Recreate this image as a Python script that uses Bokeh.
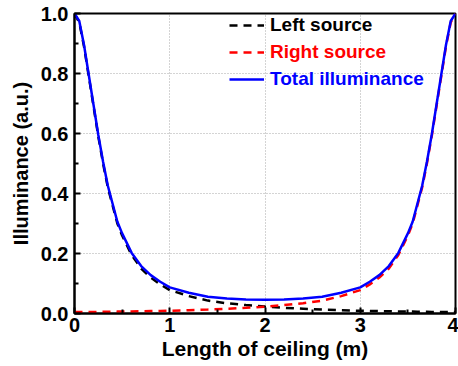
from bokeh.plotting import figure
from bokeh.models import Range1d, Legend, LegendItem, FixedTicker, NumeralTickFormatter
from bokeh.embed import file_html
from bokeh.resources import INLINE

# Position along ceiling (m)
x = [0, 0.05, 0.1, 0.15, 0.2, 0.25, 0.3, 0.35, 0.4, 0.45, 0.5, 0.6, 0.7, 0.8, 0.9, 1.0,
     1.2, 1.4, 1.6, 1.8, 2.0, 2.2, 2.4, 2.6, 2.8, 3.0, 3.1, 3.2, 3.3, 3.4, 3.5, 3.55,
     3.6, 3.65, 3.7, 3.75, 3.8, 3.85, 3.9, 3.95, 4.0]

left_source = [1.000, 0.970, 0.890, 0.790, 0.690, 0.590, 0.500, 0.420, 0.360, 0.300, 0.260,
               0.195, 0.150, 0.120, 0.097, 0.078, 0.058, 0.043, 0.034, 0.028, 0.023, 0.019,
               0.016, 0.013, 0.011, 0.009, 0.0085, 0.008, 0.0075, 0.007, 0.0065, 0.0063,
               0.006, 0.0058, 0.0056, 0.0054, 0.0052, 0.0051, 0.005, 0.0049, 0.0048]

right_source = [0.0048, 0.0049, 0.005, 0.0051, 0.0052, 0.0054, 0.0056, 0.0058, 0.006, 0.0063,
                0.0065, 0.007, 0.0075, 0.008, 0.0085, 0.009, 0.011, 0.013, 0.016, 0.019, 0.023,
                0.028, 0.034, 0.043, 0.058, 0.078, 0.097, 0.120, 0.150, 0.195, 0.260, 0.300,
                0.360, 0.420, 0.500, 0.590, 0.690, 0.790, 0.890, 0.970, 1.000]

total = [1.000, 0.975, 0.895, 0.795, 0.695, 0.595, 0.506, 0.426, 0.366, 0.306, 0.267, 0.202,
         0.158, 0.128, 0.106, 0.087, 0.069, 0.056, 0.050, 0.047, 0.046, 0.047, 0.050, 0.056,
         0.069, 0.087, 0.106, 0.128, 0.158, 0.202, 0.267, 0.306, 0.366, 0.426, 0.506, 0.595,
         0.695, 0.795, 0.895, 0.975, 1.000]

x_ticks = [0, 1, 2, 3, 4]
y_ticks = [0.0, 0.2, 0.4, 0.6, 0.8, 1.0]
labels = ["Left source", "Right source", "Total illuminance"]
colors = ["#000000", "#ff0000", "#0000ff"]

FONT = "Liberation Sans"

p = figure(width=458, height=366, output_backend="svg", toolbar_location=None,
           x_range=Range1d(0, 4), y_range=Range1d(0, 1),
           min_border_left=74, min_border_right=3, min_border_top=13, min_border_bottom=53)

p.outline_line_color = "black"
p.outline_line_width = 2
p.background_fill_color = "white"
p.border_fill_color = "white"

# grid
for g in (p.xgrid, p.ygrid):
    g.grid_line_color = "#a8a8a8"
    g.grid_line_dash = "1 2"
    g.grid_line_width = 1
p.xgrid.ticker = FixedTicker(ticks=x_ticks[1:-1])
p.ygrid.ticker = FixedTicker(ticks=y_ticks[1:-1])

# axes
p.xaxis.ticker = FixedTicker(ticks=x_ticks, minor_ticks=[0.5, 1.5, 2.5, 3.5])
p.yaxis.ticker = FixedTicker(ticks=y_ticks, minor_ticks=[0.1, 0.3, 0.5, 0.7, 0.9])
p.yaxis.formatter = NumeralTickFormatter(format="0.0")
p.xaxis.axis_label = "Length of ceiling (m)"
p.yaxis.axis_label = "Illuminance (a.u.)"
for ax in (p.xaxis[0], p.yaxis[0]):
    ax.axis_line_width = 2
    ax.axis_line_color = "black"
    ax.major_tick_in = 6
    ax.major_tick_out = 0
    ax.minor_tick_in = 4
    ax.minor_tick_out = 0
    ax.major_tick_line_width = 2
    ax.minor_tick_line_width = 2
    ax.major_label_text_font = FONT
    ax.major_label_text_font_style = "bold"
    ax.major_label_text_font_size = "20px"
    ax.major_label_text_color = "black"
    ax.axis_label_text_font = FONT
    ax.axis_label_text_font_style = "bold"
    ax.axis_label_text_color = "black"
p.xaxis.axis_label_text_font_size = "21px"
p.yaxis.axis_label_text_font_size = "20px"
p.xaxis.major_label_standoff = 4
p.yaxis.major_label_standoff = 6
p.xaxis.axis_label_standoff = 2
p.yaxis.axis_label_standoff = 6

r_left = p.line(x, left_source, line_color=colors[0], line_width=2.5, line_dash="8 6")
r_right = p.line(x, right_source, line_color=colors[1], line_width=2.5, line_dash="8 6")
r_total = p.line(x, total, line_color=colors[2], line_width=2.5)

renderers = [r_left, r_right, r_total]
locs = [(155, 277), (155, 250), (155, 223)]
for lab, col, rr, loc in zip(labels, colors, renderers, locs):
    lg = Legend(items=[LegendItem(label=lab, renderers=[rr])], location=loc,
                border_line_color=None, background_fill_alpha=0, padding=0, margin=0,
                glyph_width=35, glyph_height=22, label_height=22, label_standoff=6,
                label_text_font=FONT, label_text_font_style="bold",
                label_text_font_size="19px", label_text_color=col)
    p.add_layout(lg)

open("out.html", "w").write(file_html(p, INLINE))
